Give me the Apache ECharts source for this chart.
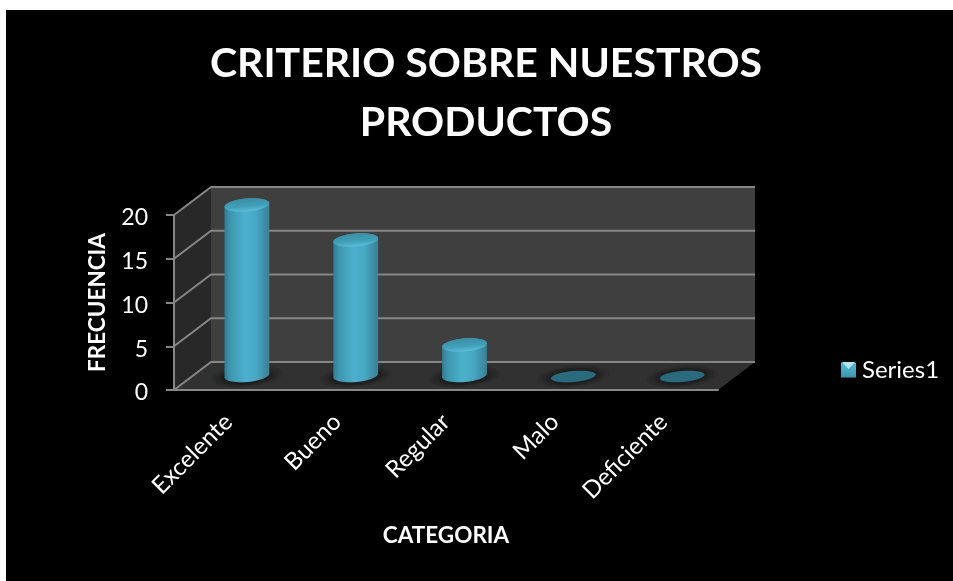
<!DOCTYPE html>
<html>
<head>
<meta charset="utf-8">
<script src="https://cdn.jsdelivr.net/npm/echarts@6/dist/echarts.min.js"></script>
<style>
html,body{margin:0;padding:0;background:#fff;}
#chart{width:953px;height:581px;}
</style>
</head>
<body>
<div id="chart"></div>
<script>
const categories = ['Excelente', 'Bueno', 'Regular', 'Malo', 'Deficiente'];
const frecuencia = [20, 16, 4, 0, 0];
const yTicks = [0, 5, 10, 15, 20];

// Pseudo-3D box: the back wall is the front plane shifted by this depth.
const DEPTH_X = 37;
const DEPTH_Y = -28;
const CYL_RX = 22.5;
const CYL_RY = 6.5;
const CYL_TILT = 0.09;
const CAP_DROP = 4;
const FONT = 'Lato, "Open Sans", sans-serif';
const LINE = '#868686';

const chart = echarts.init(document.getElementById('chart'));

function shifted(p) {
  return [p[0] + DEPTH_X, p[1] + DEPTH_Y];
}

function renderPlanes(params, api) {
  const g = params.coordSys;
  const left = g.x, right = g.x + g.width, top = g.y, bottom = g.y + g.height;
  const poly = (points, fill) => ({ type: 'polygon', shape: { points }, style: { fill } });
  return {
    type: 'group',
    children: [
      poly([shifted([left, top]), shifted([right, top]), shifted([right, bottom]), shifted([left, bottom])], '#3f3f3f'),
      poly([[left, top], shifted([left, top]), shifted([left, bottom]), [left, bottom]], '#282828'),
      poly([[left, bottom], [right, bottom], shifted([right, bottom]), shifted([left, bottom])], '#313131')
    ]
  };
}

function renderGridLine(params, api) {
  const g = params.coordSys;
  const y = api.coord([0, api.value(0)])[1];
  const front = [g.x, y];
  const backL = shifted(front);
  const backR = [g.x + g.width + DEPTH_X, y + DEPTH_Y];
  return {
    type: 'polyline',
    shape: { points: [front, backL, backR] },
    style: { stroke: LINE, lineWidth: 2, fill: null }
  };
}

// Point on a tilted ellipse, t in radians.
function ellipsePoint(cx, cy, t) {
  const x = CYL_RX * Math.cos(t), y = CYL_RY * Math.sin(t);
  const c = Math.cos(CYL_TILT), s = Math.sin(CYL_TILT);
  return [cx + x * c + y * s, cy - x * s + y * c];
}

function ellipse(cx, cy, rx, ry, style) {
  return {
    type: 'ellipse',
    shape: { cx: 0, cy: 0, rx, ry },
    x: cx, y: cy,
    rotation: CYL_TILT,
    style
  };
}

function renderCylinder(params, api) {
  const i = api.value(0), v = api.value(1);
  const base = api.coord([i, 0]);
  const cx = base[0] + DEPTH_X / 2;
  const cy = base[1] + DEPTH_Y / 2 - 0.5;
  const children = [];

  // Soft contact shadow on the floor
  [[36, 11, 0.08], [32, 9.5, 0.1], [28, 8.5, 0.12], [25, 7.5, 0.14]].forEach(s => {
    children.push(ellipse(cx, cy + 1, s[0], s[1], { fill: 'rgba(0,0,0,' + s[2] + ')' }));
  });

  if (v === 0) {
    children.push(ellipse(cx, cy + 1, CYL_RX, 5.5, { fill: '#2a6a7d' }));
    return { type: 'group', children };
  }

  const topY = api.coord([i, v])[1] + DEPTH_Y / 2 + CAP_DROP;
  const body = [];
  for (let k = 0; k <= 24; k++) body.push(ellipsePoint(cx, cy, (k / 24) * Math.PI));
  for (let k = 0; k <= 24; k++) body.push(ellipsePoint(cx, topY, Math.PI + (k / 24) * Math.PI));

  children.push({
    type: 'polygon',
    shape: { points: body },
    style: {
      fill: new echarts.graphic.LinearGradient(0, 0, 1, 0, [
        { offset: 0, color: '#327c92' },
        { offset: 0.12, color: '#3d96ae' },
        { offset: 0.45, color: '#4cb0cc' },
        { offset: 0.7, color: '#48a8c4' },
        { offset: 0.9, color: '#3d8ca4' },
        { offset: 1, color: '#3a8297' }
      ])
    }
  });
  children.push(ellipse(cx, topY, CYL_RX, CYL_RY, {
    fill: new echarts.graphic.LinearGradient(0, 0, 0, 1, [
      { offset: 0, color: '#3b8ea5' },
      { offset: 0.6, color: '#42a0b9' },
      { offset: 1, color: '#5cc0d8' }
    ])
  }));
  return { type: 'group', children };
}

chart.setOption({
  backgroundColor: '#ffffff',
  animation: false,
  title: {
    text: 'CRITERIO SOBRE NUESTROS\nPRODUCTOS',
    left: 481,
    top: 29,
    textAlign: 'center',
    textStyle: { color: '#fff', fontFamily: FONT, fontWeight: 'bold', fontSize: 41, lineHeight: 59 }
  },
  legend: {
    left: 841,
    top: 358,
    itemWidth: 15,
    itemHeight: 15,
    itemGap: 0,
    padding: 0,
    textStyle: { color: '#fff', fontFamily: FONT, fontSize: 24, padding: [2, 0, 0, 1] },
    data: [{
      name: 'Series1',
      icon: 'rect',
      itemStyle: {
        color: new echarts.graphic.LinearGradient(0, 0, 0, 1, [
          { offset: 0, color: '#58bcd8' },
          { offset: 1, color: '#3c93ac' }
        ])
      }
    }]
  },
  grid: { left: 174, top: 215, width: 544, height: 175, containLabel: false },
  xAxis: {
    type: 'category',
    data: categories,
    z: 5,
    name: 'CATEGORIA',
    nameLocation: 'middle',
    nameGap: 134,
    nameTextStyle: { color: '#fff', fontFamily: FONT, fontWeight: 'bold', fontSize: 22.5 },
    axisLine: { lineStyle: { color: LINE, width: 2 } },
    axisTick: { show: false },
    axisLabel: { color: '#fff', fontFamily: FONT, fontSize: 24, rotate: 45, margin: 28, interval: 0 }
  },
  yAxis: {
    type: 'value',
    min: 0,
    max: 20,
    interval: 5,
    z: 5,
    name: 'FRECUENCIA',
    nameLocation: 'middle',
    nameGap: 65,
    nameTextStyle: { color: '#fff', fontFamily: FONT, fontWeight: 'bold', fontSize: 22.5 },
    axisLine: { show: true, lineStyle: { color: LINE, width: 2 } },
    axisTick: { show: true, length: 8, lineStyle: { color: LINE, width: 2 } },
    axisLabel: { color: '#fff', fontFamily: FONT, fontSize: 23, margin: 26, verticalAlign: 'top', lineHeight: 6 },
    splitLine: { show: false }
  },
  graphic: {
    elements: [
      { type: 'rect', silent: true, z: -10, shape: { x: 6, y: 10, width: 947, height: 571 }, style: { fill: '#000' } },
      { type: 'polygon', silent: true, z: 20, shape: { points: [[842, 362], [855, 362], [848.5, 369]] }, style: { fill: '#b5e6f2' } }
    ]
  },
  series: [
    {
      type: 'custom',
      name: 'planos',
      z: 1,
      silent: true,
      clip: false,
      data: [[0]],
      renderItem: renderPlanes
    },
    {
      type: 'custom',
      name: 'rejilla',
      z: 2,
      silent: true,
      clip: false,
      encode: { y: 0 },
      data: yTicks.map(v => [v]),
      renderItem: renderGridLine
    },
    {
      type: 'custom',
      name: 'Series1',
      z: 3,
      clip: false,
      encode: { x: 0, y: 1 },
      data: frecuencia.map((v, i) => [i, v]),
      renderItem: renderCylinder
    }
  ]
});
</script>
</body>
</html>
